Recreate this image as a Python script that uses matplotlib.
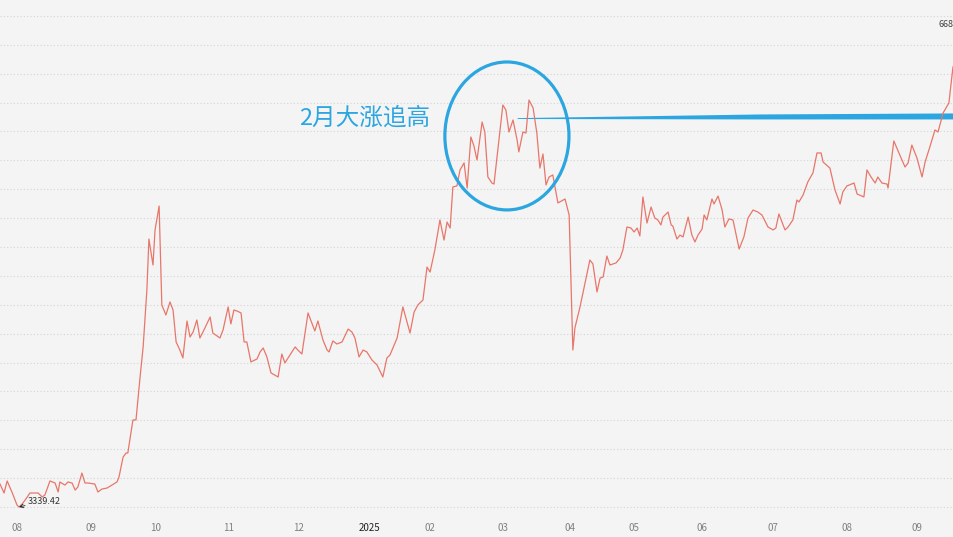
import numpy as np
import matplotlib
matplotlib.use("Agg")
import matplotlib.pyplot as plt
from matplotlib.patches import Ellipse

plt.rcParams['font.family'] = ['Noto Sans CJK SC', 'DejaVu Sans']

# dias de cotizacion (indice) y cierre del indice
dias = [0.0, 1.2, 2.1, 3.5, 5.0, 5.6, 6.5, 7.4, 8.8, 11.2, 12.4, 13.2, 14.7, 16.2, 17.1, 17.6,
        19.1, 20.0, 21.2, 22.1, 22.9, 24.1, 25.0, 25.9, 27.9, 28.8, 30.0, 31.5, 32.9, 34.4,
        35.0, 36.2, 37.1, 37.6, 39.1, 40.0, 41.2, 42.1, 43.2, 43.8, 45.0, 45.6, 46.8, 47.6,
        48.8, 50.0, 50.9, 51.8, 52.9, 53.8, 55.0, 55.9, 56.8, 57.9, 58.8, 59.7, 61.8, 62.6,
        64.7, 65.6, 67.1, 67.9, 68.8, 69.7, 70.9, 71.8, 72.6, 73.8, 75.6, 76.5, 77.4, 78.5,
        79.7, 81.8, 82.9, 83.8, 85.3, 86.8, 87.6, 88.8, 90.6, 92.6, 93.5, 95.0, 96.2, 96.8,
        97.9, 99.1, 100.6, 102.4, 103.5, 104.4, 105.6, 106.8, 107.9, 109.4, 110.9, 112.6,
        113.8, 114.7, 116.8, 118.5, 120.6, 121.8, 122.9, 124.4, 125.6, 126.5, 127.9, 129.4,
        130.6, 131.5, 132.4, 133.2, 134.4, 135.3, 136.5, 137.4, 138.5, 139.4, 140.3, 141.8,
        142.6, 143.5, 144.7, 145.3, 146.5, 147.9, 148.8, 149.7, 150.9, 152.1, 152.6, 153.8,
        154.7, 155.6, 156.8, 157.9, 158.8, 159.7, 160.6, 161.5, 162.6, 164.1, 166.2, 167.4,
        168.5, 169.1, 170.6, 172.1, 173.5, 174.4, 175.6, 176.5, 177.4, 178.5, 179.4, 181.2,
        182.4, 183.2, 184.4, 185.6, 186.5, 187.4, 188.2, 189.1, 190.3, 191.5, 192.6, 193.5,
        194.4, 195.0, 196.5, 197.4, 197.9, 199.1, 200.0, 200.9, 202.4, 203.5, 204.4, 205.3,
        206.5, 207.1, 207.9, 209.4, 210.0, 211.2, 212.4, 213.2, 214.4, 215.6, 217.4, 218.8,
        220.0, 221.5, 222.9, 224.1, 225.9, 227.4, 228.2, 229.1, 230.9, 231.8, 233.2, 234.4,
        235.0, 236.2, 237.6, 239.1, 240.3, 241.5, 242.1, 244.1, 245.6, 247.1, 247.9, 249.1,
        251.2, 252.1, 254.1, 255.0, 256.2, 257.4, 258.2, 259.4, 260.9, 261.2, 262.9, 264.4,
        266.2, 267.1, 268.2, 269.7, 271.2, 272.1, 273.5, 275.0, 275.9, 277.4, 279.1, 280.3]

cierre = [3496, 3435, 3517, 3442, 3353, 3339.42, 3360, 3387, 3435, 3435, 3408, 3421, 3517, 3503,
          3442, 3510, 3489, 3510, 3503, 3455, 3476, 3571, 3503, 3503, 3496, 3442, 3462, 3469,
          3489, 3510, 3544, 3680, 3708, 3708, 3933, 3933, 4226, 4431, 4819, 5167, 4990, 5229,
          5392, 4717, 4649, 4738, 4683, 4465, 4410, 4356, 4608, 4499, 4533, 4615, 4492, 4533,
          4635, 4526, 4492, 4547, 4704, 4588, 4683, 4676, 4663, 4465, 4465, 4329, 4349, 4397,
          4424, 4363, 4254, 4226, 4383, 4322, 4376, 4431, 4410, 4383, 4663, 4540, 4608, 4478,
          4410, 4397, 4472, 4451, 4465, 4553, 4533, 4492, 4363, 4410, 4397, 4342, 4308, 4226,
          4356, 4376, 4492, 4704, 4526, 4669, 4717, 4751, 4976, 4942, 5092, 5297, 5160, 5283,
          5242, 5522, 5529, 5638, 5686, 5515, 5863, 5802, 5706, 5965, 5897, 5590, 5549, 5542,
          5788, 6081, 6047, 5897, 5979, 5842, 5761, 5897, 5890, 6115, 6061, 5890, 5651, 5747,
          5536, 5590, 5604, 5413, 5440, 5331, 4410, 4561, 4704, 4868, 5024, 4997, 4806, 4901,
          4908, 5051, 4990, 5004, 5038, 5092, 5249, 5242, 5215, 5242, 5188, 5454, 5276, 5385,
          5310, 5297, 5263, 5317, 5351, 5263, 5256, 5167, 5194, 5181, 5317, 5194, 5147, 5194,
          5235, 5331, 5297, 5440, 5406, 5460, 5365, 5249, 5304, 5297, 5099, 5181, 5310, 5365,
          5351, 5331, 5249, 5229, 5242, 5338, 5229, 5249, 5297, 5433, 5420, 5467, 5556, 5617,
          5754, 5754, 5692, 5651, 5501, 5406, 5488, 5529, 5549, 5474, 5454, 5638, 5590, 5549,
          5590, 5549, 5542, 5515, 5836, 5754, 5658, 5686, 5808, 5720, 5590, 5692, 5795, 5911,
          5897, 6027, 6095, 6341]

meses_pos = [5.0, 26.8, 45.9, 67.1, 87.9, 108.8, 126.5, 147.9, 167.6, 186.5, 206.5, 227.4, 249.1, 269.7]
meses = ["08", "09", "10", "11", "12", "2025", "02", "03", "04", "05", "06", "07", "08", "09"]

minimo = 3339.42
tope = 6688.4

azul = "#2ba6e1"
fondo = "#f4f4f4"

fig = plt.figure(figsize=(9.54, 5.37), dpi=100, facecolor=fondo)
ax = fig.add_axes([0, 22/537, 1, 515/537], facecolor=fondo)

ax.set_xlim(0, 280.6)
ax.set_ylim(3284.9, 6797.2)

for nivel in np.linspace(minimo, tope, 18):
    ax.axhline(nivel, color="#d4d4d4", lw=0.8, ls=(0, (1, 2)), zorder=1)

# la flecha gruesa que sale del circulo
xs = [152.1, 223.5, 280.6]
ax.fill_between(xs, [5995, 6020, 6027], [5989, 5986, 5986], color=azul, lw=0, zorder=2)

ax.plot(dias, cierre, color="#e8766a", lw=0.9, zorder=3)

ax.add_patch(Ellipse((149.1, 5870), 36.5, 1009, fill=False, edgecolor=azul, lw=2.3, zorder=4))
ax.text(126.5, 5992, "2月大涨追高", color=azul, fontsize=17, ha="right", va="center", zorder=5)

ax.annotate("3339.42", xy=(5.6, minimo), xytext=(8.2, 3380), fontsize=6.5, color="#333333",
            va="center", ha="left",
            arrowprops=dict(arrowstyle="->", color="#222222", lw=0.6, shrinkA=0, shrinkB=0))

ax.text(280.4, 6660, "668", fontsize=6.5, color="#444444", ha="right", va="top")

ax.set_xticks(meses_pos)
ax.set_xticklabels(meses, fontsize=7, color="#808080")
ax.get_xticklabels()[5].set_color("#222222")
ax.tick_params(axis="x", length=0, pad=6)
ax.set_yticks([])
for s in ax.spines.values():
    s.set_visible(False)

plt.savefig("out.png", dpi=100, facecolor=fondo)
